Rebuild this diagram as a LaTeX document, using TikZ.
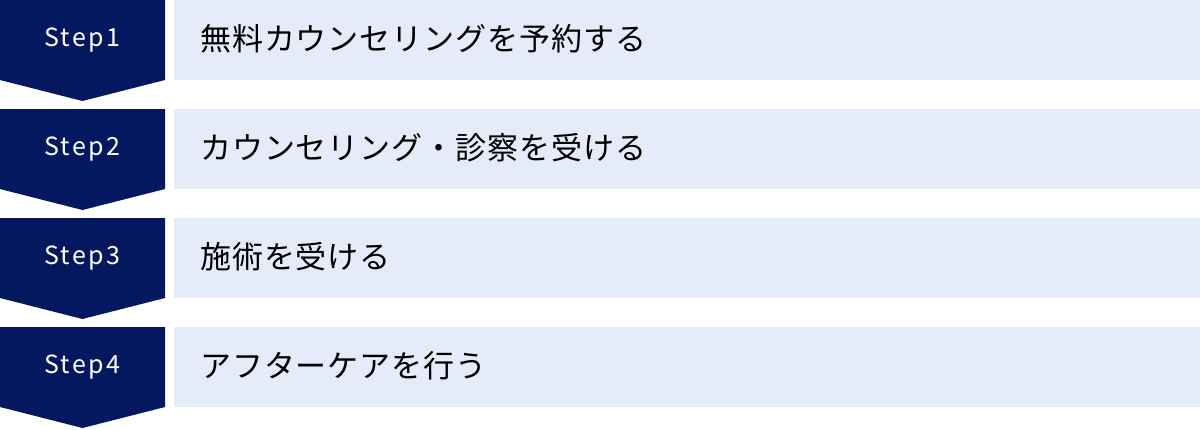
\documentclass[tikz,border=0pt]{standalone}
\usepackage{fontspec}
\newfontfamily\jpfont[LetterSpace=3]{Noto Sans CJK JP}
\newfontfamily\stepfont[LetterSpace=10]{Noto Sans CJK JP}
\definecolor{navy}{RGB}{4,24,96}
\definecolor{lightbg}{RGB}{229,235,248}
\begin{document}
\begin{tikzpicture}[x=1pt,y=-1pt,
  navyshape/.style={fill=navy,draw=none},
  lightbox/.style={fill=lightbg,draw=none,inner sep=0pt,minimum width=1026pt,minimum height=80pt},
  steplabel/.style={text=white,font=\stepfont\fontsize{25}{29}\selectfont,inner sep=0pt},
  itemlabel/.style={text=black,font=\jpfont\fontsize{31}{36}\selectfont,inner sep=0pt,anchor=west}]
\useasboundingbox (0,0) rectangle (1200,429);
\foreach \i/\txt in {0/{無料カウンセリングを予約する},1/{カウンセリング・診察を受ける},2/{施術を受ける},3/{アフターケアを行う}}{
  \pgfmathsetmacro{\top}{109*\i}
  \fill[navyshape] (0,\top) -- (165,\top) -- (165,\top+80) -- (82.5,\top+101) -- (0,\top+80) -- cycle;
  \node[lightbox] (b\i) at (687,\top+40) {};
  \node[steplabel] (s\i) at (82.5,\top+40) {Step\the\numexpr\i+1\relax};
  \node[itemlabel] (t\i) at (200,\top+38.5) {\txt};
}
\end{tikzpicture}
\end{document}
